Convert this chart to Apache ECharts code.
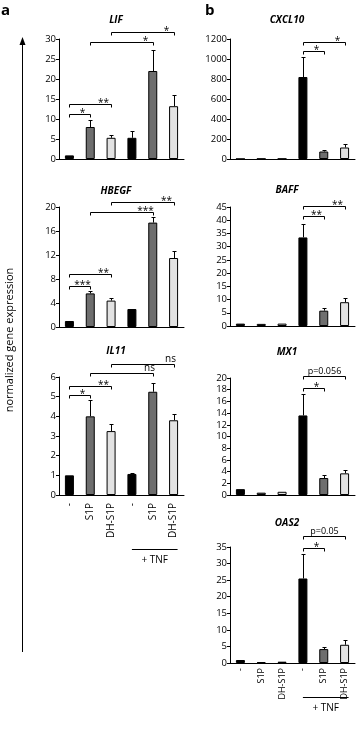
<!DOCTYPE html>
<html>
<head>
<meta charset="utf-8">
<script src="https://cdn.jsdelivr.net/npm/echarts@6.0.0/dist/echarts.min.js"></script>
<style>
  html, body { margin: 0; background: #fff; }
  #main { width: 358px; height: 731px; }
</style>
</head>
<body>
<div id="main"></div>
<script>
// treatment groups, the last three are + TNF
var groups = ['-', 'S1P', 'DH-S1P', '-', 'S1P', 'DH-S1P']

// panel a
var lifMean = [0.9, 8.0, 5.3, 5.3, 22.0, 13.2]
var lifSd = [0.15, 1.8, 0.7, 1.6, 5.3, 2.9]
var lifBrackets = [[0, 1, 11.3], [0, 2, 13.8], [1, 4, 29.3], [2, 5, 31.8]]
var lifMarks = ['*', '**', '*', '*']

var hbegfMean = [1.0, 5.6, 4.4, 3.0, 17.4, 11.5]
var hbegfSd = [0.05, 0.4, 0.5, 0.1, 0.9, 1.1]
var hbegfBrackets = [[0, 1, 6.8], [0, 2, 8.8], [1, 4, 19.1], [2, 5, 20.8]]
var hbegfMarks = ['***', '**', '***', '**']

var il11Mean = [1.0, 4.0, 3.25, 1.07, 5.25, 3.8]
var il11Sd = [0, 0.85, 0.37, 0.06, 0.47, 0.3]
var il11Brackets = [[0, 1, 5.06], [0, 2, 5.56], [1, 4, 6.2], [2, 5, 6.66]]
var il11Marks = ['*', '**', 'ns', 'ns']

// panel b
var cxcl10Mean = [1, 3, 3, 820, 75, 115]
var cxcl10Sd = [0, 0, 0, 200, 20, 35]
var cxcl10Brackets = [[3, 4, 1076], [3, 5, 1170]]
var cxcl10Marks = ['*', '*']

var baffMean = [0.9, 0.8, 0.9, 33.5, 5.8, 9.0]
var baffSd = [0.1, 0.1, 0.2, 5.0, 1.0, 1.5]
var baffBrackets = [[3, 4, 41.6], [3, 5, 45.3]]
var baffMarks = ['**', '**']

var mx1Mean = [1.0, 0.4, 0.55, 13.6, 2.9, 3.7]
var mx1Sd = [0.05, 0.05, 0.15, 3.6, 0.5, 0.5]
var mx1Brackets = [[3, 4, 18.3], [3, 5, 20.3]]
var mx1Marks = ['*', 'p=0.056']

var oas2Mean = [0.9, 0.3, 0.4, 25.5, 4.2, 5.5]
var oas2Sd = [0.1, 0.05, 0.1, 7.5, 0.7, 1.3]
var oas2Brackets = [[3, 4, 34.8], [3, 5, 38.3]]
var oas2Marks = ['*', 'p=0.05']

var FONT = '"Open Sans", sans-serif'
var barColors = ['#000000', '#6e6e6e', '#e2e2e2']

var panels = [
  { name: 'LIF', mean: lifMean, sd: lifSd, br: lifBrackets, marks: lifMarks, max: 30, step: 5, left: 59, top: 39, height: 120, titleY: 20 },
  { name: 'HBEGF', mean: hbegfMean, sd: hbegfSd, br: hbegfBrackets, marks: hbegfMarks, max: 20, step: 4, left: 59, top: 207, height: 120, titleY: 191 },
  { name: 'IL11', mean: il11Mean, sd: il11Sd, br: il11Brackets, marks: il11Marks, max: 6, step: 1, left: 59, top: 377, height: 118, titleY: 351, labels: 10, margin: 8 },
  { name: 'CXCL10', mean: cxcl10Mean, sd: cxcl10Sd, br: cxcl10Brackets, marks: cxcl10Marks, max: 1200, step: 200, left: 230, top: 39, height: 120, titleY: 20 },
  { name: 'BAFF', mean: baffMean, sd: baffSd, br: baffBrackets, marks: baffMarks, max: 45, step: 5, left: 230, top: 207, height: 119, titleY: 190 },
  { name: 'MX1', mean: mx1Mean, sd: mx1Sd, br: mx1Brackets, marks: mx1Marks, max: 20, step: 2, left: 230, top: 378, height: 117, titleY: 352 },
  { name: 'OAS2', mean: oas2Mean, sd: oas2Sd, br: oas2Brackets, marks: oas2Marks, max: 35, step: 5, left: 230, top: 547, height: 116, titleY: 523, labels: 9, margin: 5 }
]

function renderError (params, api) {
  var x = api.value(0)
  var lo = api.coord([x, api.value(1)])
  var hi = api.coord([x, api.value(2)])
  if (lo[1] - hi[1] < 1) return
  var cx = Math.round(lo[0]) + 0.5
  var ty = Math.round(hi[1]) + 0.5
  return {
    type: 'group',
    children: [
      { type: 'line', shape: { x1: cx, y1: lo[1], x2: cx, y2: ty }, style: { stroke: '#000', lineWidth: 1 } },
      { type: 'line', shape: { x1: cx - 2, y1: ty, x2: cx + 2, y2: ty }, style: { stroke: '#000', lineWidth: 1 } }
    ]
  }
}

function makeBracket (marks) {
  return function (params, api) {
    var a = api.coord([api.value(0), api.value(2)])
    var b = api.coord([api.value(1), api.value(2)])
    var y = Math.round(a[1]) + 0.5
    var x1 = Math.round(a[0]) + 0.5
    var x2 = Math.round(b[0]) + 0.5
    var txt = marks[params.dataIndex]
    var tx = x2 - 8
    var ty = y + 4
    if (txt.indexOf('p=') === 0) { tx = (x1 + x2) / 2; ty = y - 1 }
    if (txt === 'ns') { tx = x2 - 4; ty = y }
    return {
      type: 'group',
      children: [
        { type: 'polyline', shape: { points: [[x1, y + 3], [x1, y], [x2, y], [x2, y + 3]] }, style: { stroke: '#000', fill: null, lineWidth: 1 } },
        { type: 'text', style: { x: tx, y: ty, text: txt, fill: '#000', font: (txt.indexOf('p=') === 0 ? '9px ' : '10px ') + FONT, align: 'center', verticalAlign: 'bottom' } }
      ]
    }
  }
}

var grids = [], xAxes = [], yAxes = [], series = [], titles = []

panels.forEach(function (p, i) {
  grids.push({ left: p.left, top: p.top, width: 125, height: p.height })
  titles.push({
    text: p.name,
    left: p.left + 57,
    top: p.titleY - 7,
    padding: 0,
    textAlign: 'center',
    textStyle: { fontFamily: FONT, fontSize: 10, fontWeight: 'bold', fontStyle: 'italic', color: '#000', lineHeight: 14 }
  })
  xAxes.push({
    type: 'category',
    gridIndex: i,
    data: groups,
    axisLine: { lineStyle: { color: '#000', width: 1 } },
    axisTick: { show: false },
    axisLabel: {
      show: !!p.labels,
      rotate: 90,
      margin: p.margin || 6,
      interval: 0,
      color: '#000',
      fontFamily: FONT,
      fontSize: p.labels || 9
    }
  })
  yAxes.push({
    type: 'value',
    gridIndex: i,
    min: 0,
    max: p.max,
    interval: p.step,
    splitLine: { show: false },
    axisLine: { show: true, lineStyle: { color: '#000', width: 1 } },
    axisTick: { show: true, length: 3, lineStyle: { color: '#000' } },
    axisLabel: { color: '#000', fontFamily: FONT, fontSize: 9.5, margin: 3, formatter: function (v) { return String(v) } }
  })
  series.push({
    type: 'bar',
    xAxisIndex: i,
    yAxisIndex: i,
    barWidth: 9,
    data: p.mean,
    itemStyle: {
      color: function (d) { return barColors[d.dataIndex % 3] },
      borderColor: '#000',
      borderWidth: 1
    }
  })
  series.push({
    type: 'custom',
    xAxisIndex: i,
    yAxisIndex: i,
    renderItem: renderError,
    encode: { x: 0, y: [1, 2] },
    data: p.mean.map(function (m, k) { return [k, m, m + p.sd[k]] }),
    z: 3
  })
  series.push({
    type: 'custom',
    xAxisIndex: i,
    yAxisIndex: i,
    renderItem: makeBracket(p.marks),
    encode: { x: [0, 1], y: 2 },
    clip: false,
    data: p.br,
    z: 4
  })
})

var chart = echarts.init(document.getElementById('main'))
chart.setOption({
  animation: false,
  backgroundColor: '#fff',
  title: titles,
  grid: grids,
  xAxis: xAxes,
  yAxis: yAxes,
  series: series
})

// "+ TNF" under the last three bars of each bottom panel, the side arrow and panel letters
function tnf (axisIdx, lineY, textY) {
  var a = chart.convertToPixel({ xAxisIndex: axisIdx }, 3)
  var b = chart.convertToPixel({ xAxisIndex: axisIdx }, 5)
  return [
    { type: 'line', shape: { x1: a, y1: lineY + 0.5, x2: b + 4, y2: lineY + 0.5 }, style: { stroke: '#000', lineWidth: 1 } },
    { type: 'text', style: { x: (a + b + 4) / 2, y: textY, text: '+ TNF', fill: '#000', font: '10px ' + FONT, align: 'center', verticalAlign: 'middle' } }
  ]
}

var g = []
g = g.concat(tnf(2, 549, 560))
g = g.concat(tnf(6, 697, 708))
g.push({ type: 'line', shape: { x1: 22.5, y1: 652, x2: 22.5, y2: 42 }, style: { stroke: '#000', lineWidth: 1 } })
g.push({ type: 'polygon', shape: { points: [[22.5, 37], [19.5, 45], [25.5, 45]] }, style: { fill: '#000' } })
g.push({ type: 'text', x: 10, y: 340, rotation: Math.PI / 2, style: { text: 'normalized gene expression', fill: '#000', font: '11px ' + FONT, align: 'center', verticalAlign: 'middle' } })
g.push({ type: 'text', style: { x: 1, y: 3, text: 'a', fill: '#000', font: 'bold 15px ' + FONT } })
g.push({ type: 'text', style: { x: 205, y: 3, text: 'b', fill: '#000', font: 'bold 15px ' + FONT } })

chart.setOption({ graphic: g })
</script>
</body>
</html>
